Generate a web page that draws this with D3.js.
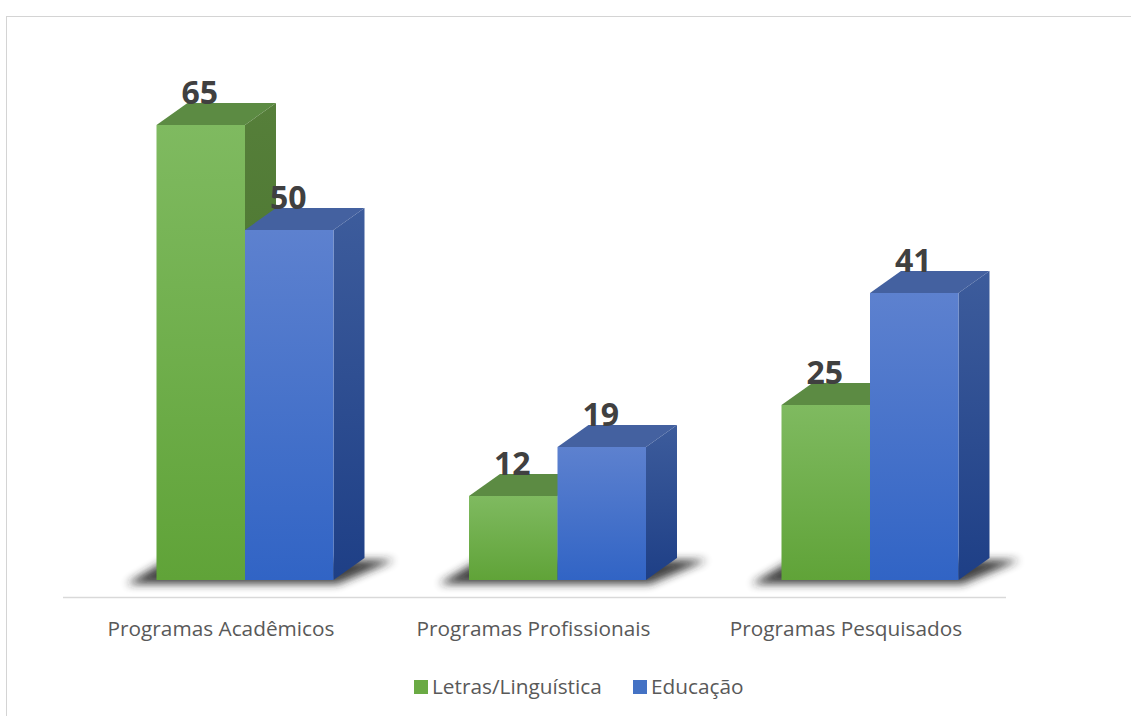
<!DOCTYPE html>
<html>
<head>
<meta charset="utf-8">
<script src="https://cdn.jsdelivr.net/npm/d3@7"></script>
<style>
  body { margin: 0; background: #fff; }
  svg { display: block; }
</style>
</head>
<body>
<script>
// chart values
var categories = ["Programas Acadêmicos", "Programas Profissionais", "Programas Pesquisados"];
var seriesNames = ["Letras/Linguística", "Educação"];
var letras = [65, 12, 25];
var educacao = [50, 19, 41];

var width = 1131, height = 716;
var depthX = 31, depthY = 22; // fake 3d offset

var svg = d3.select("body").append("svg")
            .attr("width", width)
            .attr("height", height);

var defs = svg.append("defs");

function vGrad(id, c1, c2) {
  var g = defs.append("linearGradient").attr("id", id)
              .attr("x1", 0).attr("y1", 0).attr("x2", 0).attr("y2", 1);
  g.append("stop").attr("offset", "0%").attr("stop-color", c1);
  g.append("stop").attr("offset", "100%").attr("stop-color", c2);
}
vGrad("gFront", "#7fba60", "#60a338");
vGrad("gSide", "#567f3a", "#437028");
vGrad("bFront", "#5d81cf", "#3164c5");
vGrad("bSide", "#3d5c9c", "#1e3f86");

defs.append("filter").attr("id", "blur")
    .attr("x", "-20%").attr("y", "-100%").attr("width", "140%").attr("height", "300%")
    .append("feGaussianBlur").attr("stdDeviation", 4);

var styles = [
  {front: "url(#gFront)", side: "url(#gSide)", top: "#5c8b43", legend: "#6aaa44"},
  {front: "url(#bFront)", side: "url(#bSide)", top: "#4461a0", legend: "#4472c4"}
];

// frame lines
svg.append("line").attr("x1", 6).attr("x2", width).attr("y1", 16.5).attr("y2", 16.5)
   .attr("stroke", "#d4d4d4");
svg.append("line").attr("x1", 6.5).attr("x2", 6.5).attr("y1", 16).attr("y2", height)
   .attr("stroke", "#d4d4d4");

var y = d3.scaleLinear().domain([0, 65]).range([580, 125]);
var xGroup = d3.scalePoint().domain(categories).range([245, 870]);
var xInner = d3.scaleBand().domain(seriesNames).range([-88.5, 88.5]);

var rows = categories.map(function(c, i) {
  return {cat: c, vals: [letras[i], educacao[i]]};
});

var chartGroup = svg.append("g");

// shadows under each group
chartGroup.selectAll(".shadow").data(rows).enter().append("polygon")
  .attr("class", "shadow")
  .attr("points", function(d) {
    var x0 = xGroup(d.cat) + xInner.range()[0], x1 = xGroup(d.cat) + xInner.range()[1];
    var b = y(0);
    return [[x0 - 30, b + 4], [x1 + 4, b + 4], [x1 + depthX + 30, b - depthY + 2], [x0 + 10, b - depthY + 2]].join(" ");
  })
  .attr("fill", "#222")
  .attr("opacity", 0.85)
  .attr("filter", "url(#blur)");

// axis line
svg.append("line").attr("x1", 63).attr("x2", 1006).attr("y1", 597.5).attr("y2", 597.5)
   .attr("stroke", "#d9d9d9").attr("stroke-width", 1.5);

// bars
rows.forEach(function(d) {
  seriesNames.forEach(function(s, j) {
    var v = d.vals[j];
    var x0 = xGroup(d.cat) + xInner(s), x1 = x0 + xInner.bandwidth();
    var yt = y(v), yb = y(0);
    var g = chartGroup.append("g");
    g.append("polygon")
      .attr("points", [[x0, yt], [x1, yt], [x1 + depthX, yt - depthY], [x0 + depthX, yt - depthY]].join(" "))
      .attr("fill", styles[j].top);
    g.append("polygon")
      .attr("points", [[x1, yt], [x1 + depthX, yt - depthY], [x1 + depthX, yb - depthY], [x1, yb]].join(" "))
      .attr("fill", styles[j].side);
    g.append("rect")
      .attr("x", x0).attr("y", yt)
      .attr("width", x1 - x0).attr("height", yb - yt)
      .attr("fill", styles[j].front);
    g.append("text")
      .attr("x", (x0 + x1) / 2 - 1)
      .attr("y", yt - depthY + 1)
      .attr("text-anchor", "middle")
      .attr("font-family", "'Open Sans', sans-serif")
      .attr("font-weight", "bold")
      .attr("font-size", 32)
      .attr("fill", "#404040")
      .text(v);
  });
});

// category labels
svg.selectAll(".cat").data(categories).enter().append("text")
  .attr("class", "cat")
  .attr("x", function(d) { return xGroup(d) - 24; })
  .attr("y", 636)
  .attr("text-anchor", "middle")
  .attr("font-family", "'Open Sans', sans-serif")
  .attr("font-size", 20.8)
  .attr("fill", "#595959")
  .text(function(d) { return d; });

// legend
var legendX = [414, 633];
var legend = svg.selectAll(".legend").data(seriesNames).enter().append("g")
  .attr("class", "legend")
  .attr("transform", function(d, i) { return "translate(" + legendX[i] + ",680)"; });
legend.append("rect").attr("width", 14).attr("height", 14)
  .attr("fill", function(d, i) { return styles[i].legend; });
legend.append("text")
  .attr("x", 18).attr("y", 14)
  .attr("font-family", "'Open Sans', sans-serif")
  .attr("font-size", 20.8)
  .attr("fill", "#595959")
  .text(function(d) { return d; });
</script>
</body>
</html>
